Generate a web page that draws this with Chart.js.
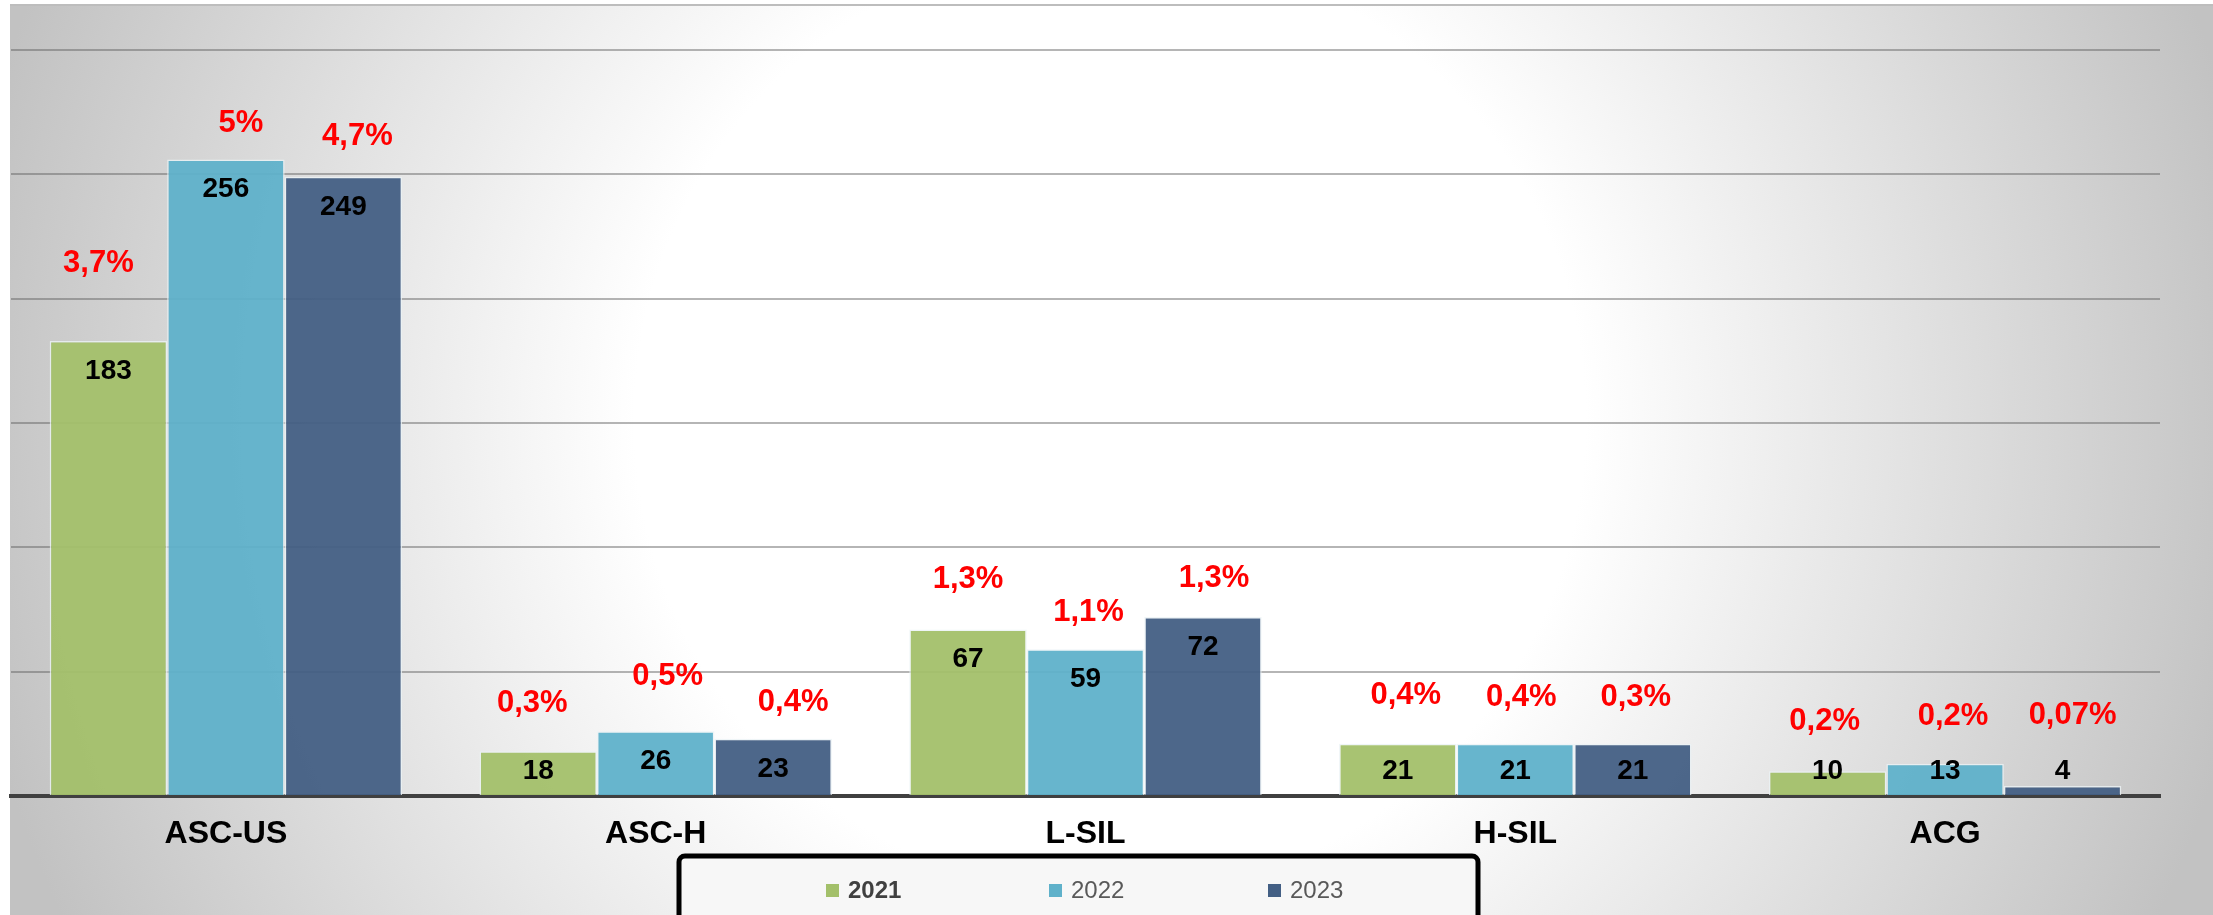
<!DOCTYPE html>
<html lang="it">
<head>
<meta charset="UTF-8">
<title>Citologia 2021-2023</title>
<script src="https://cdn.jsdelivr.net/npm/chart.js@4.4.0/dist/chart.umd.min.js"></script>
<style>
  html, body { margin: 0; padding: 0; background: #fff; }
  #wrap { width: 2213px; height: 915px; }
</style>
</head>
<body>
<div id="wrap"><canvas id="myChart" width="2213" height="915"></canvas></div>

<script>
  // dati
  const categories = ['ASC-US', 'ASC-H', 'L-SIL', 'H-SIL', 'ACG'];
  const years = ['2021', '2022', '2023'];
  const values2021 = [183, 18, 67, 21, 10];
  const values2022 = [256, 26, 59, 21, 13];
  const values2023 = [249, 23, 72, 21, 4];
  const pct2021 = ['3,7%', '0,3%', '1,3%', '0,4%', '0,2%'];
  const pct2022 = ['5%', '0,5%', '1,1%', '0,4%', '0,2%'];
  const pct2023 = ['4,7%', '0,4%', '1,3%', '0,3%', '0,07%'];

  const colors = ['rgba(163,192,106,0.95)', 'rgba(95,177,202,0.95)', 'rgba(67,95,132,0.95)'];
  const legendColors = ['#a3c06a', '#5fb1ca', '#435f84'];
  // spostamento delle etichette percentuali rispetto alla barra (px)
  const pctLift = [
    [77, 48, 50, 48, 50],
    [36, 55, 37, 46, 47],
    [40, 36, 39, 46, 71]
  ];
  const pctShift = [
    [-10, -6, 0, 8, -3],
    [15, 12, 3, 6, 8],
    [14, 20, 11, 3, 10]
  ];
  const FONT = '"Liberation Sans", Arial, sans-serif';

  /* sfondo con gradiente radiale */
  const bgPlugin = {
    id: 'bg',
    beforeDraw(chart) {
      const c = chart.ctx;
      c.save();
      const g = c.createRadialGradient(1110, 420, 0, 1110, 420, 1160);
      g.addColorStop(0, '#ffffff');
      g.addColorStop(0.41, '#ffffff');
      g.addColorStop(1, '#c2c2c2');
      c.fillStyle = g;
      c.fillRect(10, 5, chart.width - 10, chart.height - 5);
      c.strokeStyle = '#bdbdbd';
      c.lineWidth = 2;
      c.beginPath();
      c.moveTo(10, 5);
      c.lineTo(chart.width, 5);
      c.stroke();
      c.restore();
    }
  };

  /* etichette: valori dentro le barre, percentuali rosse sopra */
  const labelPlugin = {
    id: 'labels',
    afterDatasetsDraw(chart) {
      const c = chart.ctx;
      const y = chart.scales.y;
      const pcts = [pct2021, pct2022, pct2023];
      c.save();
      c.textAlign = 'center';
      c.textBaseline = 'middle';
      chart.data.datasets.forEach((ds, i) => {
        chart.getDatasetMeta(i).data.forEach((bar, j) => {
          c.font = 'bold 28px ' + FONT;
          c.fillStyle = '#000';
          c.fillText(ds.data[j], bar.x, Math.min(bar.y + 30, y.bottom - 25));
          c.font = 'bold 31px ' + FONT;
          c.fillStyle = '#ff0000';
          c.fillText(pcts[i][j], bar.x + pctShift[i][j], bar.y - pctLift[i][j]);
        });
      });
      c.restore();
    }
  };

  /* legenda con bordo nero in basso */
  const legendPlugin = {
    id: 'boxLegend',
    afterDraw(chart) {
      const c = chart.ctx;
      c.save();
      c.fillStyle = '#f7f7f7';
      c.strokeStyle = '#000';
      c.lineWidth = 5;
      c.beginPath();
      c.roundRect(679, 856, 799, 90, 6);
      c.fill();
      c.stroke();
      const xs = [826, 1049, 1268];
      c.textBaseline = 'middle';
      c.textAlign = 'left';
      years.forEach((yr, i) => {
        c.fillStyle = legendColors[i];
        c.fillRect(xs[i], 884, 13, 13);
        c.fillStyle = i === 0 ? '#404040' : '#595959';
        c.font = (i === 0 ? 'bold ' : '') + '24px ' + FONT;
        c.fillText(yr, xs[i] + 22, 891);
      });
      c.restore();
    }
  };

  const ctx = document.getElementById('myChart').getContext('2d');
  const myChart = new Chart(ctx, {
    type: 'bar',
    data: {
      labels: categories,
      datasets: [values2021, values2022, values2023].map((v, i) => ({
        label: years[i],
        data: v,
        backgroundColor: colors[i],
        borderColor: 'rgba(235,242,245,0.8)',
        borderWidth: 1.5,
        categoryPercentage: 0.82,
        barPercentage: 1.0
      }))
    },
    options: {
      responsive: false,
      animation: false,
      devicePixelRatio: 1,
      layout: { padding: { left: 11, right: 53, top: 50, bottom: 0 } },
      plugins: {
        legend: { display: false },
        tooltip: { enabled: false }
      },
      scales: {
        x: {
          grid: { display: false, drawTicks: false },
          border: { display: true, color: '#404040', width: 4 },
          ticks: {
            padding: 19,
            color: '#000',
            font: { family: FONT, size: 32, weight: 'bold' }
          },
          afterFit(scale) { scale.height = 119; }
        },
        y: {
          min: 0,
          max: 300,
          ticks: { display: false, stepSize: 50 },
          border: { display: false },
          grid: { color: 'rgba(90,90,90,0.45)', lineWidth: 2, drawTicks: false },
          afterFit(scale) { scale.width = 0; }
        }
      }
    },
    plugins: [bgPlugin, labelPlugin, legendPlugin]
  });
</script>
</body>
</html>
